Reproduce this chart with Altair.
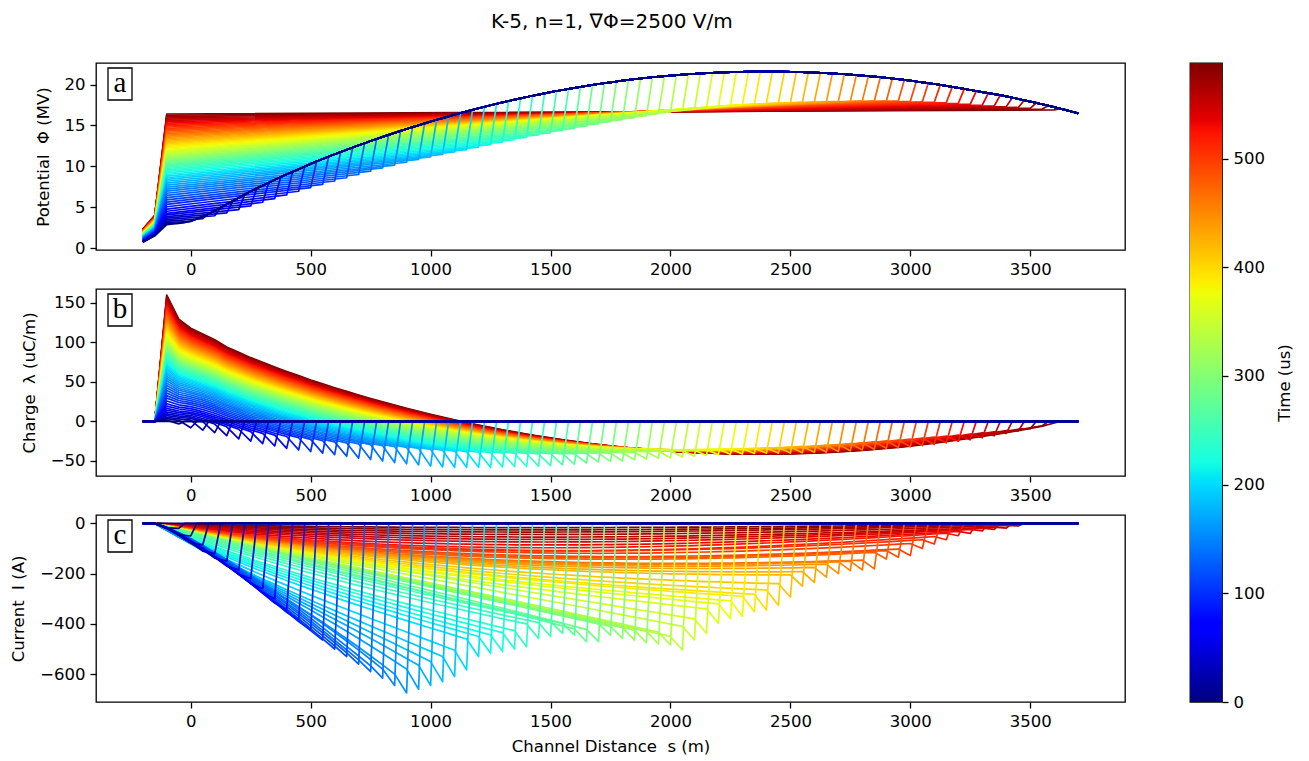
import math
import altair as alt
import pandas as pd

FONT = "DejaVu Sans"
TXT = 16.5
T_MAX = 588.0

# Ambient potential (MV) along the channel axis, tabulated every 25 m from s = -200 m
AMB_START, AMB_STEP = -200, 25
phi_ambient = [
    0.70, 1.10, 1.50, 2.20, 2.85, 2.95, 3.05, 3.15,
    3.30, 3.55, 3.85, 4.20, 4.55, 4.95, 5.35, 5.75,
    6.15, 6.55, 6.95, 7.30, 7.65, 8.00, 8.35, 8.70,
    9.02, 9.33, 9.65, 9.98, 10.30, 10.61, 10.90, 11.19,
    11.48, 11.75, 12.03, 12.30, 12.57, 12.83, 13.09, 13.35,
    13.60, 13.85, 14.09, 14.33, 14.57, 14.80, 15.03, 15.25,
    15.48, 15.69, 15.90, 16.11, 16.32, 16.52, 16.72, 16.91,
    17.10, 17.29, 17.47, 17.65, 17.82, 17.99, 18.15, 18.32,
    18.48, 18.63, 18.78, 18.93, 19.07, 19.21, 19.34, 19.47,
    19.60, 19.72, 19.84, 19.96, 20.07, 20.18, 20.28, 20.38,
    20.48, 20.57, 20.66, 20.74, 20.82, 20.90, 20.97, 21.04,
    21.10, 21.16, 21.22, 21.27, 21.32, 21.36, 21.40, 21.44,
    21.48, 21.50, 21.53, 21.55, 21.57, 21.58, 21.59, 21.60,
    21.60, 21.60, 21.59, 21.58, 21.57, 21.55, 21.53, 21.50,
    21.48, 21.44, 21.40, 21.36, 21.32, 21.27, 21.22, 21.16,
    21.10, 21.04, 20.97, 20.90, 20.82, 20.74, 20.66, 20.57,
    20.48, 20.38, 20.28, 20.18, 20.07, 19.96, 19.84, 19.72,
    19.60, 19.47, 19.34, 19.21, 19.07, 18.95, 18.83, 18.70,
    18.55, 18.40, 18.24, 18.08, 17.92, 17.76, 17.59, 17.42,
    17.24, 17.06, 16.87, 16.67, 16.47,
]

# Leader tip position (m) and time (us) of every snapshot
tip_pos = list(range(-100, 3601, 50))
snap_time = [round(T_MAX * k / (len(tip_pos) - 1), 1) for k in range(len(tip_pos))]

# Channel potential at the root (s = -100 m) and at the tip, per snapshot (MV)
phi_root = [
    2.85, 3.0, 3.15, 3.3, 3.48, 3.66, 3.85, 4.05, 4.25, 4.5,
    4.75, 5.05, 5.35, 5.62, 5.9, 6.17, 6.44, 6.7, 6.96, 7.21,
    7.46, 7.7, 7.94, 8.17, 8.4, 8.6, 8.8, 9.0, 9.19, 9.38,
    9.56, 9.73, 9.9, 10.05, 10.2, 10.34, 10.48, 10.62, 10.76, 10.9,
    11.03, 11.17, 11.31, 11.46, 11.61, 11.77, 11.93, 12.09, 12.25, 12.41,
    12.57, 12.73, 12.89, 13.05, 13.21, 13.37, 13.53, 13.69, 13.85, 14.01,
    14.17, 14.33, 14.49, 14.65, 14.81, 14.97, 15.13, 15.29, 15.45, 15.61,
    15.77, 15.93, 16.09, 16.25, 16.4,
]
phi_tip = [
    2.85, 3.0, 3.25, 3.6, 3.95, 4.3, 4.7, 5.15, 5.6, 6.05,
    6.5, 6.95, 7.4, 7.8, 8.2, 8.6, 9.0, 9.4, 9.8, 10.15,
    10.5, 10.85, 11.15, 11.45, 11.75, 12.05, 12.35, 12.65, 12.95, 13.25,
    13.55, 13.85, 14.1, 14.4, 14.65, 14.9, 15.2, 15.45, 15.7, 15.95,
    16.2, 16.45, 16.65, 16.85, 17.0, 17.15, 17.3, 17.45, 17.55, 17.65,
    17.7, 17.75, 17.8, 17.85, 17.9, 17.9, 17.95, 17.95, 18.0, 18.0,
    18.0, 18.0, 17.95, 17.9, 17.85, 17.8, 17.7, 17.6, 17.5, 17.4,
    17.3, 17.2, 17.1, 17.0, 16.9,
]

# Line charge at the tip node (uC/m)
chg_tip = [
    0, -3, -8, -11, -14, -18, -22, -25, -28, -31,
    -34, -36, -38, -40, -42, -44, -46.5, -48, -50, -52,
    -53.5, -55, -56.5, -57.5, -58, -58, -58, -58, -57.5, -57,
    -57, -56.5, -56, -55, -54, -52.5, -51.5, -50.5, -50, -48.5,
    -47.5, -46.5, -46, -45, -44, -43, -42, -41.5, -41, -40.5,
    -40, -40, -40, -39.5, -39, -38.5, -38, -37, -36, -35,
    -34, -33, -32, -30.5, -29, -27, -25, -23, -20.5, -18,
    -15, -12, -9, -5.5, -2,
]
# Capacitance per unit length (pF/m) near the root, then along the rest of the channel
cap_root = [11.8, 9.7, 9.0, 8.8, 8.7]
CAP_LINE = 8.5
# Share of the root potential rise seen by the grounded lead at s = -200 and -150 m
LEAD_COUPLING = (0.118, 0.185)

# Current (A): tip value, value one node behind the tip, plateau level and bend length
cur_tip = [
    0, -20, -50, -85, -120, -150, -185, -220, -260, -300,
    -345, -385, -425, -464, -500, -530, -560, -590, -616, -645,
    -675, -660, -645, -630, -610, -583, -530, -517, -510, -500,
    -491, -458, -450, -438, -445, -471, -471, -445, -458, -465,
    -475, -480, -484, -504, -464, -438, -398, -379, -370, -352,
    -345, -326, -293, -250, -235, -214, -200, -188, -185, -181,
    -142, -135, -128, -100, -82, -65, -49, -40, -30, -24,
    -19, -10, -3, -1, 0,
]
cur_end = [
    0, -18, -46, -78, -110, -138, -170, -202, -239, -276,
    -317, -354, -391, -427, -460, -488, -515, -543, -567, -580,
    -600, -580, -565, -550, -530, -505, -460, -450, -444, -435,
    -427, -400, -395, -390, -398, -420, -422, -400, -410, -415,
    -425, -430, -433, -450, -410, -380, -340, -320, -308, -290,
    -282, -265, -240, -205, -192, -175, -162, -152, -150, -146,
    -115, -108, -102, -80, -65, -52, -39, -32, -24, -19,
    -15, -8, -2, -1, 0,
]
cur_plat = [0] * 19 + [
    -450, -470, -490, -500, -505, -505, -500, -495, -490, -485,
    -480, -475, -470, -465, -460, -455, -450, -445, -440, -435,
    -430, -425, -420, -410, -400, -390, -380, -370, -360, -350,
    -340, -330, -320, -312, -304, -296, -290, -285, -280, -275,
    -268, -260, -250, -240, -225, -210, -190, -170, -150, -130,
    -112, -95, -78, -62, -46, -30,
]
cur_bend = [1000] * 19 + [900, 900, 900, 900, 900, 900,
                          950, 1000, 1050, 1100, 1150, 1200,
                          1300, 1400, 1500, 1600, 1700, 1800] + [1800] * 9 + [
    1600, 1600, 1550, 1550, 1500, 1500, 1500, 1500, 1500] + [1500] * 10 + [1200] * 10
# Growth of the current along a young channel, as a power of the distance from the root
YOUNG_RISE = 1.25

n_snap = len(tip_pos)
for lst in (phi_root, phi_tip, chg_tip, cur_tip, cur_end, cur_plat, cur_bend):
    assert len(lst) == n_snap, len(lst)
assert len(phi_ambient) == (3700 - AMB_START) // AMB_STEP + 1


def ambient(s):
    return phi_ambient[(s - AMB_START) // AMB_STEP]


pot_rows, chg_rows, cur_rows = [], [], []
# latest snapshot first so that the earliest ones end up on top
for k in reversed(range(n_snap)):
    L, t = tip_pos[k], snap_time[k]
    root, tip = phi_root[k], phi_tip[k]
    lift = root - ambient(-100)

    pot = [(-200, ambient(-200) + LEAD_COUPLING[0] * lift),
           (-150, ambient(-150) + LEAD_COUPLING[1] * lift),
           (-100, root)]
    if L > -100:
        pot.append((L, tip))
    pot += [(s, ambient(s)) for s in range(L + 25, 3701, 25)]

    chg = [(-200, 0.0), (-150, 0.0)]
    cur = [(-200, 0.0), (-150, 0.0)]
    x_end = L + 100
    for j, s in enumerate(range(-100, L, 50)):
        phi_ch = root + (tip - root) * (s + 100) / (L + 100)
        cap = cap_root[j] if j < len(cap_root) else CAP_LINE
        chg.append((s, cap * (phi_ch - ambient(s))))
        x = s + 150
        if cur_plat[k] == 0:
            val = cur_end[k] * (x / x_end) ** YOUNG_RISE
        else:
            base = cur_plat[k] * (1 - math.exp(-x / cur_bend[k]))
            base_end = cur_plat[k] * (1 - math.exp(-x_end / cur_bend[k]))
            val = base + (cur_end[k] - base_end) * (x / x_end) ** 2
        cur.append((s, min(val, 0.0)))
    chg += [(L, chg_tip[k]), (L + 25, 0.0), (3700, 0.0)]
    cur += [(L, cur_tip[k]), (L + 25, 0.0), (3700, 0.0)]

    for rows, pts in ((pot_rows, pot), (chg_rows, chg), (cur_rows, cur)):
        rows.extend({"snap": k, "time": t, "s": s, "value": v} for s, v in pts)

pot_df = pd.DataFrame(pot_rows)
chg_df = pd.DataFrame(chg_rows)
cur_df = pd.DataFrame(cur_rows)

# jet colour map as piecewise-linear RGB stops
jet_frac = [0, 0.11, 0.125, 0.34, 0.35, 0.375, 0.64, 0.65, 0.66, 0.89, 0.91, 1.0]
jet_hex = ["#00007f", "#0000ff", "#0000ff", "#00dbff", "#00e5f6", "#14ffe2",
           "#eeff08", "#f6f500", "#ffec00", "#ff1300", "#e70000", "#7f0000"]
time_scale = alt.Scale(domain=[f * T_MAX for f in jet_frac], range=jet_hex,
                       interpolate="rgb")

x_scale = alt.Scale(domain=[-395, 3895], nice=False, zero=False)
W, H = 1029, 187


def panel(df, letter, ytitle, ydomain, yticks, xtitle=None):
    xkw = dict(values=list(range(0, 3501, 500)), format="d", labelPadding=5)
    if xtitle:
        xkw.update(title=xtitle, titlePadding=9)
    else:
        xkw.update(title=None)
    lines = alt.Chart(df).mark_line(strokeWidth=1.7, strokeJoin="round").encode(
        x=alt.X("s:Q", scale=x_scale, axis=alt.Axis(**xkw)),
        y=alt.Y("value:Q", scale=alt.Scale(domain=ydomain, nice=False, zero=False),
                axis=alt.Axis(values=yticks, format="d", title=ytitle,
                              labelPadding=5, titlePadding=13)),
        color=alt.Color("time:Q", scale=time_scale, legend=None),
        detail="snap:N",
    )
    one = alt.Data(values=[{"tag": letter}])
    box = alt.Chart(one).mark_rect(fill="white", stroke="black", strokeWidth=1.3).encode(
        x=alt.value(12), x2=alt.value(36), y=alt.value(5), y2=alt.value(37))
    lab = alt.Chart(one).mark_text(font="Liberation Serif", fontSize=29, align="center",
                                   baseline="alphabetic", color="black").encode(
        x=alt.value(24), y=alt.value(29), text="tag:N")
    return alt.layer(lines, box, lab).properties(width=W, height=H)


pa = panel(pot_df, "a", "Potential\u00a0 Φ (MV)", [-0.24, 22.64], [0, 5, 10, 15, 20])
pb = panel(chg_df, "b", "Charge\u00a0 λ (uC/m)", [-69, 167.6], [-50, 0, 50, 100, 150])
pc = panel(cur_df, "c", "Current\u00a0 I (A)", [-711, 33.5], [-600, -400, -200, 0],
           xtitle="Channel Distance\u00a0 s (m)")

stack = alt.vconcat(pa, pb, pc, spacing=39, bounds="flush")

bar = alt.Chart(pd.DataFrame({"lo": [0.0], "hi": [T_MAX]})).mark_rect(
    color=alt.LinearGradient(
        gradient="linear",
        stops=[alt.GradientStop(offset=f, color=c) for f, c in zip(jet_frac, jet_hex)],
        x1=0, x2=0, y1=1, y2=0)
).encode(
    x=alt.value(0), x2=alt.value(32),
    y=alt.Y("lo:Q", scale=alt.Scale(domain=[0, T_MAX], nice=False, zero=False),
            axis=alt.Axis(orient="right", values=[0, 100, 200, 300, 400, 500], format="d",
                          title="Time (us)", titleAngle=270, titleBaseline="top",
                          labelPadding=5, titlePadding=12)),
    y2="hi:Q",
).properties(width=32, height=639)

chart = alt.hconcat(stack, bar, spacing=63).configure_view(
    stroke="black", strokeWidth=1.3
).configure_axis(
    labelFont=FONT, titleFont=FONT, labelFontSize=TXT, titleFontSize=TXT,
    labelColor="black", titleColor="black", titleFontWeight="normal",
    tickColor="black", tickWidth=1.3, tickSize=6, grid=False, domain=False,
).properties(
    title=alt.TitleParams("K-5, n=1, ∇Φ=2500 V/m", anchor="middle", font=FONT,
                          fontSize=20, fontWeight="normal", color="black",
                          baseline="alphabetic", offset=14, dx=-40),
    padding={"left": 10, "top": 12, "right": 15, "bottom": 2},
)

chart.save("out.html", embed_options={"renderer": "svg", "actions": False})
